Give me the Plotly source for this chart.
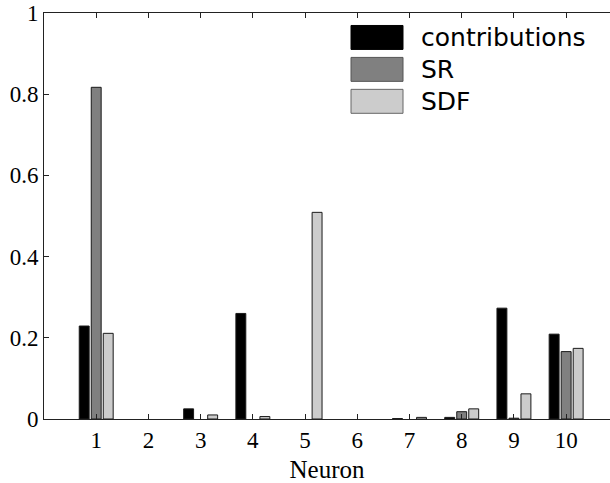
import plotly.graph_objects as go

neurons = [1, 2, 3, 4, 5, 6, 7, 8, 9, 10]
contributions = [0.229, 0, 0.025, 0.26, 0, 0, 0.001, 0.004, 0.273, 0.209]
sr = [0.817, 0, 0, 0, 0, 0, 0, 0.018, 0.002, 0.166]
sdf = [0.211, 0, 0.01, 0.006, 0.509, 0, 0.004, 0.025, 0.062, 0.174]
series_names = ["contributions", "SR", "SDF"]
series_colors = ["#000000", "#808080", "#cccccc"]
y_ticks = [0, 0.2, 0.4, 0.6, 0.8, 1]
y_ticklabels = ["0", "0.2", "0.4", "0.6", "0.8", "1"]

SERIF = "Liberation Serif"
W, H = 610, 483
L, T = 44, 12.5
PW, PH = W - L, 406.8

fig = go.Figure()
for name, vals, col in zip(series_names, [contributions, sr, sdf], series_colors):
    # zero-height bars are not drawn in the original
    fig.add_trace(go.Bar(
        x=neurons, y=[v if v > 0 else None for v in vals], name=name,
        marker=dict(color=col, line=dict(color="#1a1a1a", width=1)),
        showlegend=False,
    ))

# hand-made legend with big patches
edge = ["#000000", "#555555", "#666666"]
for i, (name, col) in enumerate(zip(series_names, series_colors)):
    y0 = 25 + i * 32
    fig.add_shape(type="rect", xref="paper", yref="paper",
                  x0=(351 - L) / PW, x1=(403 - L) / PW,
                  y0=1 - (y0 + 24 - T) / PH, y1=1 - (y0 - T) / PH,
                  fillcolor=col, line=dict(color=edge[i], width=1))
    fig.add_annotation(text=name, xref="paper", yref="paper",
                       x=(419 - L) / PW, y=1 - (y0 + 12 - T) / PH,
                       xanchor="left", yanchor="middle", showarrow=False,
                       font=dict(family="DejaVu Sans", size=25,
                                 color="#000000"))

fig.update_layout(
    template="none",
    width=W, height=H,
    margin=dict(l=L, r=0, t=T, b=H - T - PH, autoexpand=False),
    paper_bgcolor="white", plot_bgcolor="white",
    barmode="group", bargap=0.31, bargroupgap=0.174,
    font=dict(family=SERIF, size=23, color="#000000"),
    xaxis=dict(
        range=[0, 10.84], tickmode="array", tickvals=neurons,
        ticktext=[str(n) for n in neurons],
        ticks="inside", ticklen=5, tickwidth=1,
        tickcolor="#222222", showline=True, linecolor="#222222", linewidth=1,
        mirror="ticks", showgrid=False, zeroline=False, automargin=False,
        tickfont=dict(family=SERIF, size=23, color="#000000"),
        title=dict(text="Neuron", font=dict(family=SERIF, size=25),
                   standoff=8),
    ),
    yaxis=dict(
        range=[0, 1], tickmode="array", tickvals=y_ticks,
        ticktext=y_ticklabels, ticks="inside", ticklen=5, tickwidth=1,
        tickcolor="#222222", showline=True, linecolor="#222222",
        linewidth=1, showgrid=False, zeroline=False, automargin=False,
        tickfont=dict(family=SERIF, size=23, color="#000000"),
    ),
)
fig.write_html("out.html", config={"displayModeBar": False},
               post_script="document.body.style.margin='0';")
